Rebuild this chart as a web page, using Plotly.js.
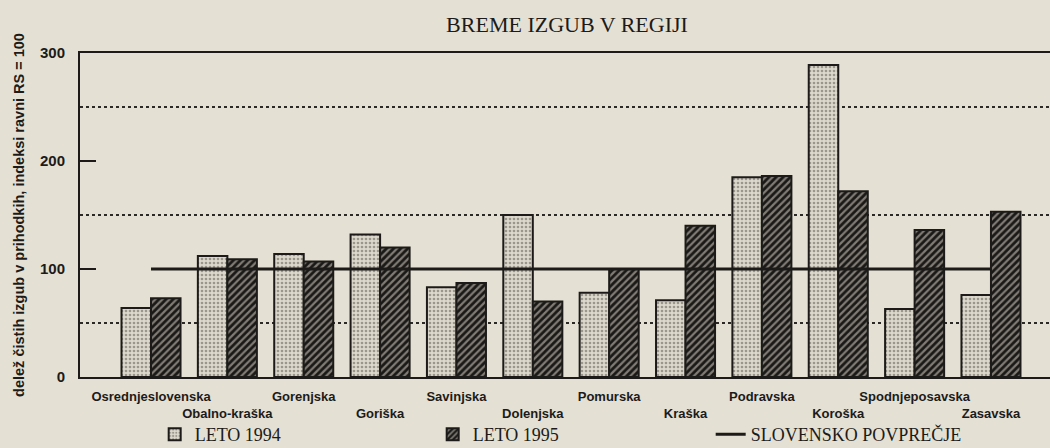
<!DOCTYPE html>
<html>
<head>
<meta charset="utf-8">
<script src="https://cdn.plot.ly/plotly-3.0.1.min.js"></script>
<style>html,body{margin:0;padding:0;background:#e4e0d3;}#chart{width:1050px;height:448px;}</style>
</head>
<body>
<div id="chart"></div>
<script>
const categories = ["Osrednjeslovenska","Obalno-kraška","Gorenjska","Goriška","Savinjska","Dolenjska","Pomurska","Kraška","Podravska","Koroška","Spodnjeposavska","Zasavska"];
const leto1994 = [64, 112, 114, 132, 83, 150, 78, 71, 185, 289, 63, 76];
const leto1995 = [73, 109, 107, 120, 87, 70, 100, 140, 186, 172, 136, 153];
const povprecje = [100,100,100,100,100,100,100,100,100,100,100,100];
const yTicks = [0, 100, 200, 300];
const yMinor = [50, 150, 250];

const ink = '#1c1b19';
const tickText = categories.map((c, i) => (i % 2 ? '<br>' + c : c));

const traces = [
  {
    type: 'bar', name: 'LETO 1994', x: categories, y: leto1994,
    marker: {color: '#d9d5c9', line: {color: ink, width: 2},
      pattern: {shape: '.', fgcolor: '#9a968c', bgcolor: '#dcd8cc', size: 4, solidity: 0.35}}
  },
  {
    type: 'bar', name: 'LETO 1995', x: categories, y: leto1995,
    marker: {color: '#4e4b45', line: {color: ink, width: 2},
      pattern: {shape: '/', fgcolor: '#1a1917', bgcolor: '#807c74', size: 5, solidity: 0.55}}
  },
  {
    type: 'scatter', mode: 'lines', name: 'SLOVENSKO POVPREČJE', x: categories, y: povprecje,
    line: {color: ink, width: 3}
  }
];

const layout = {
  width: 1050, height: 448,
  paper_bgcolor: '#e4e0d3', plot_bgcolor: 'rgba(0,0,0,0)',
  margin: {l: 80, r: 0, t: 53, b: 71, autoexpand: false},
  barmode: 'group', bargap: 0.227, bargroupgap: 0,
  showlegend: true,
  title: {text: 'BREME IZGUB V REGIJI', x: 0.54, xanchor: 'center', y: 0.945, yanchor: 'middle',
    font: {family: '"Liberation Serif", "Times New Roman", serif', size: 22, color: ink}},
  font: {color: ink},
  xaxis: {
    type: 'category', range: [-0.93, 11.773], automargin: false,
    tickvals: categories, ticktext: tickText, ticks: '', tickangle: 0,
    tickfont: {family: '"Liberation Sans", Arial, sans-serif', size: 13, color: ink, weight: 'bold'},
    ticklabelstandoff: 6,
    showline: true, linecolor: ink, linewidth: 2, mirror: true,
    showgrid: false, zeroline: false, fixedrange: true
  },
  yaxis: {
    range: [0, 300], tickvals: yTicks, ticktext: yTicks.map(String), automargin: false,
    ticks: 'inside', ticklen: 16, tickwidth: 2, tickcolor: ink,
    tickfont: {family: '"Liberation Sans", Arial, sans-serif', size: 15, color: ink, weight: 'bold'},
    ticklabelstandoff: 10,
    showline: true, linecolor: ink, linewidth: 2,
    showgrid: false, zeroline: false,
    minor: {tickvals: yMinor, showgrid: true, griddash: 'dot', gridcolor: '#2a2926', gridwidth: 2, ticks: ''},
    title: {text: 'delež čistih izgub v prihodkih, indeksi ravni RS = 100', standoff: 12,
      font: {family: '"Liberation Sans", Arial, sans-serif', size: 14.5, color: ink, weight: 'bold'}},
    fixedrange: true
  },
  legend: {
    orientation: 'h', x: 0.077, xanchor: 'left', y: -0.178, yanchor: 'middle',
    entrywidth: 233, entrywidthmode: 'pixels', itemwidth: 30,
    font: {family: '"Liberation Serif", "Times New Roman", serif', size: 18, color: ink},
    bgcolor: 'rgba(0,0,0,0)', traceorder: 'normal'
  }
};

Plotly.newPlot('chart', traces, layout, {displayModeBar: false, staticPlot: true});
</script>
</body>
</html>
